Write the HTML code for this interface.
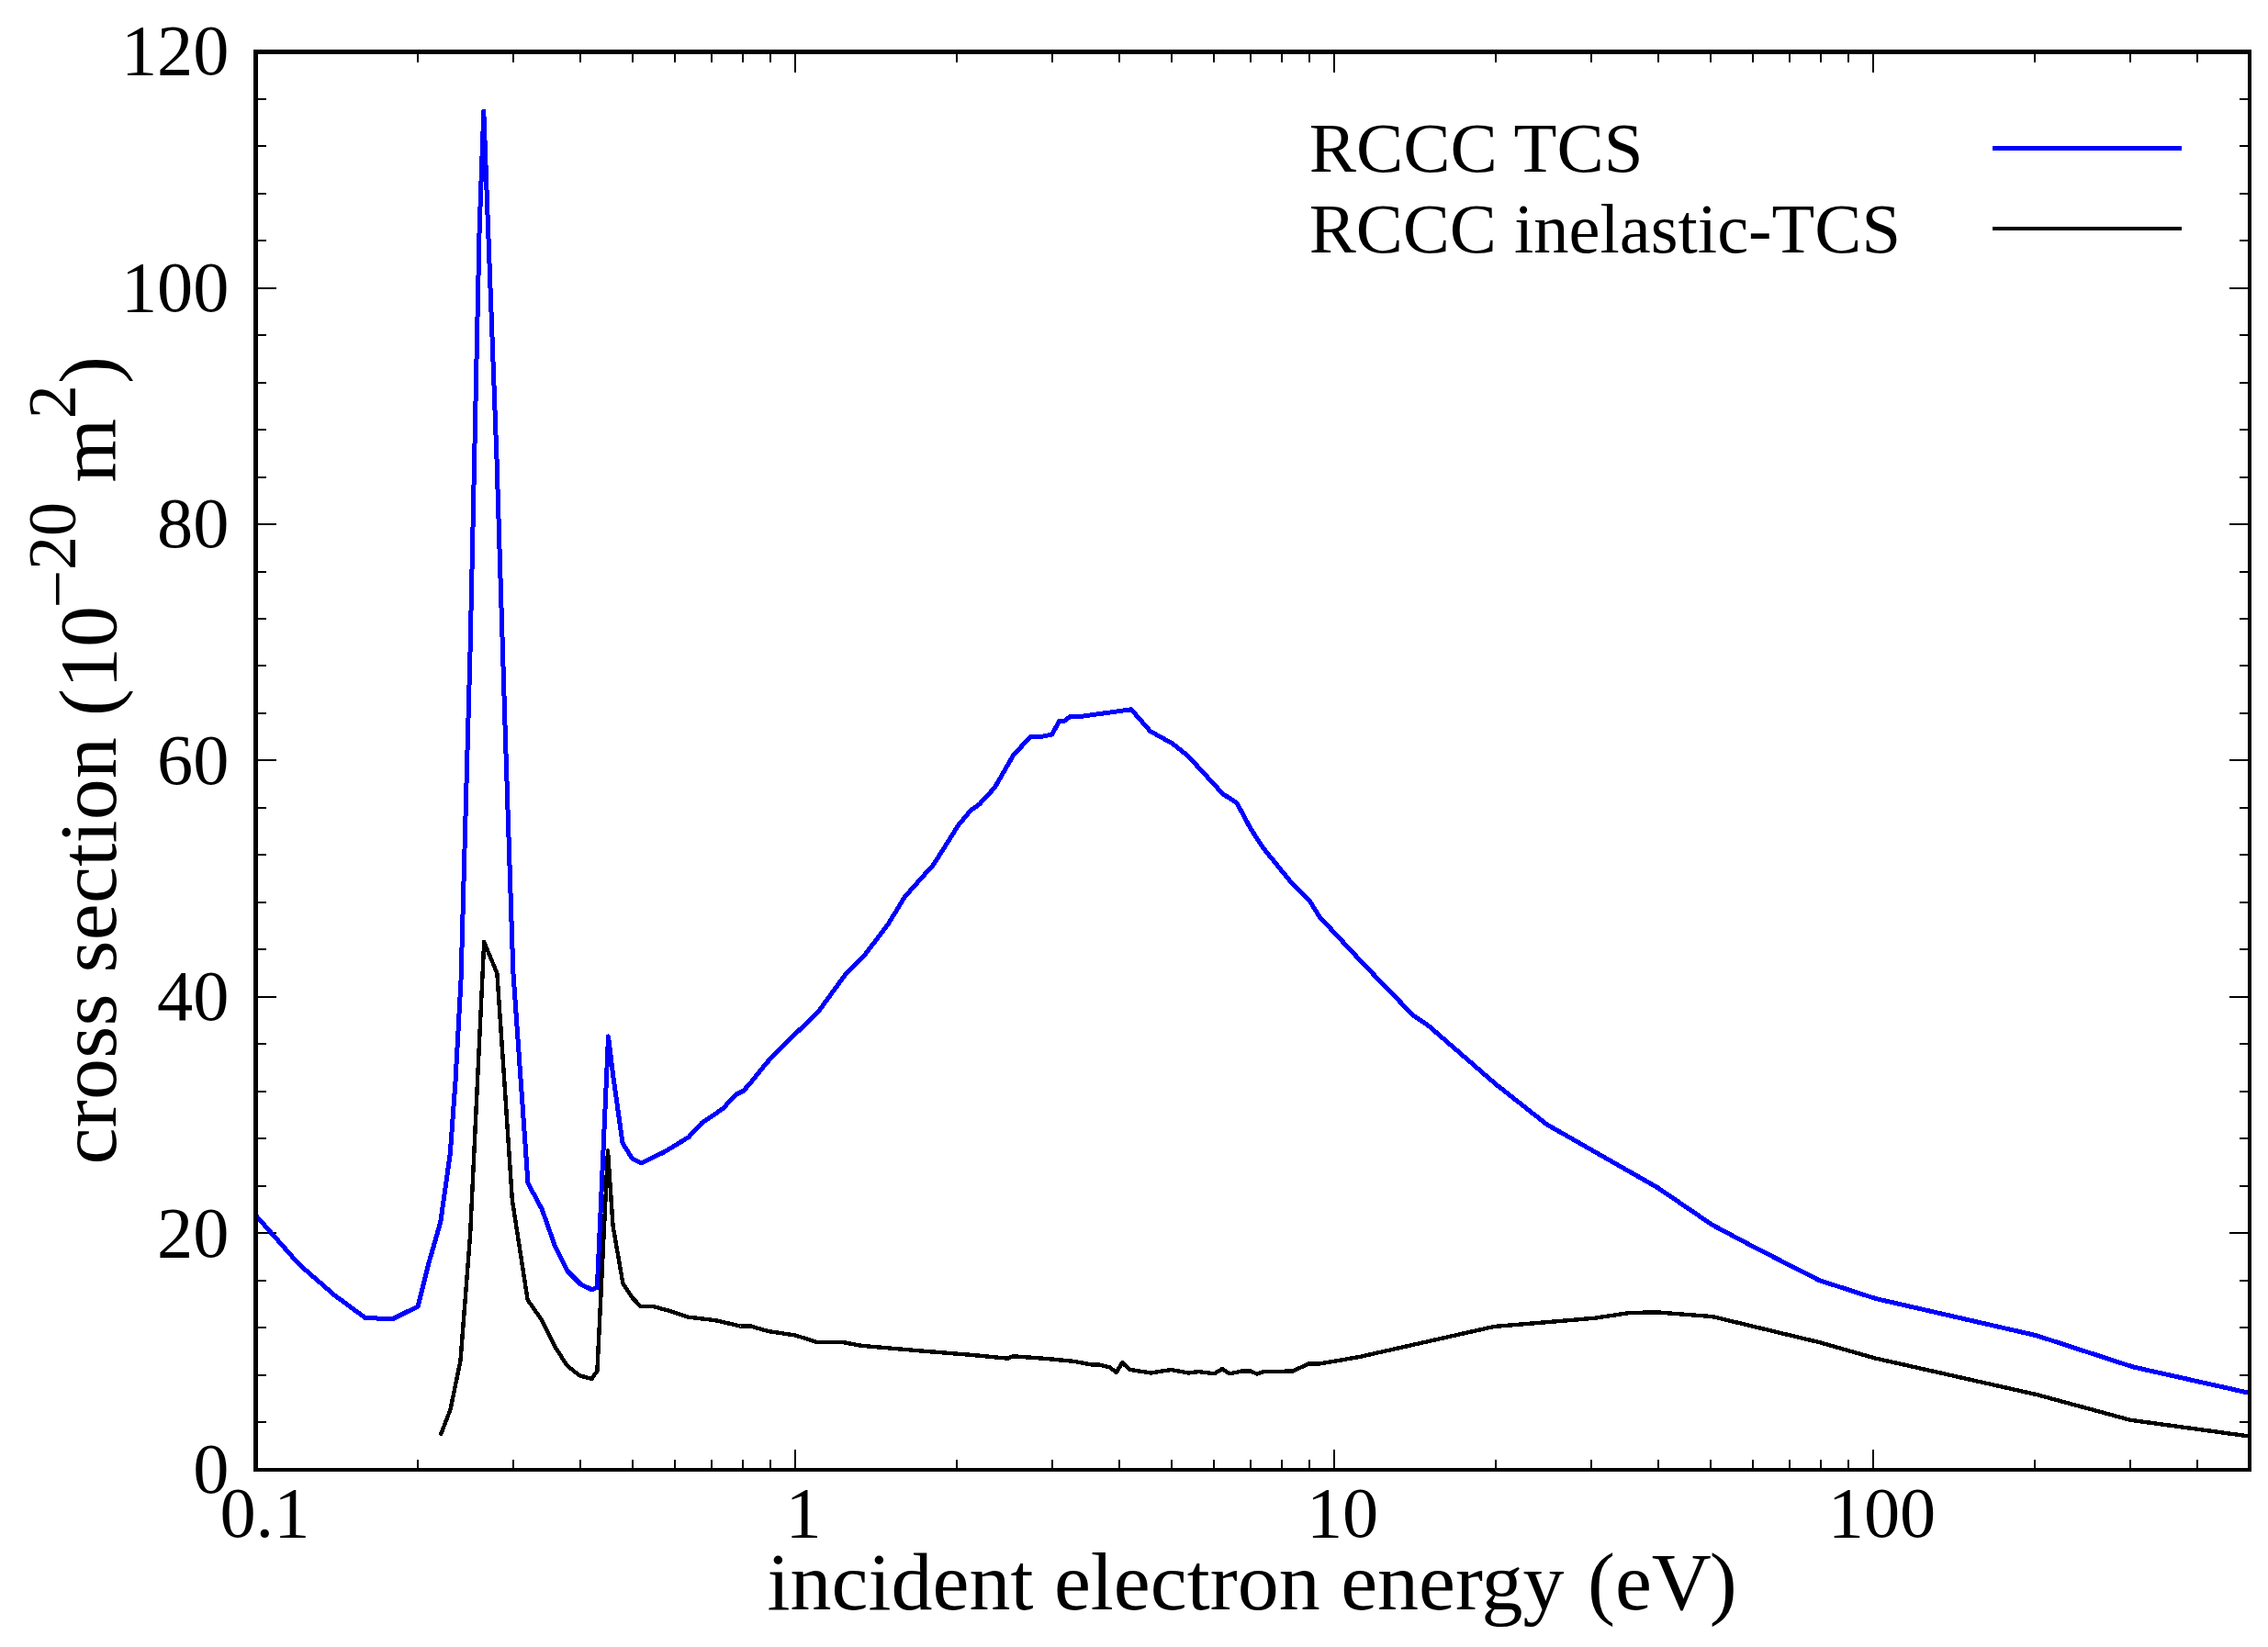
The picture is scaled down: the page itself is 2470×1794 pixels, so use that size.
<!DOCTYPE html>
<html lang="en"><head><meta charset="utf-8"><title>RCCC cross sections</title>
<style>html,body{margin:0;padding:0;background:#fff}body{width:2470px;height:1794px;overflow:hidden}</style></head>
<body>
<svg width="2470" height="1794" viewBox="0 0 2470 1794" style="display:block;font-family:'Liberation Serif','Times New Roman',serif" fill="#000">
<rect width="2470" height="1794" fill="#fff"/>
<path d="M278.5 1549.2h11.4M2450.5 1549.2h-11.4M278.5 1497.7h11.4M2450.5 1497.7h-11.4M278.5 1446.2h11.4M2450.5 1446.2h-11.4M278.5 1394.8h11.4M2450.5 1394.8h-11.4M278.5 1343.3h22.4M2450.5 1343.3h-22.4M278.5 1291.8h11.4M2450.5 1291.8h-11.4M278.5 1240.3h11.4M2450.5 1240.3h-11.4M278.5 1188.8h11.4M2450.5 1188.8h-11.4M278.5 1137.3h11.4M2450.5 1137.3h-11.4M278.5 1085.8h22.4M2450.5 1085.8h-22.4M278.5 1034.3h11.4M2450.5 1034.3h-11.4M278.5 982.9h11.4M2450.5 982.9h-11.4M278.5 931.4h11.4M2450.5 931.4h-11.4M278.5 879.9h11.4M2450.5 879.9h-11.4M278.5 828.4h22.4M2450.5 828.4h-22.4M278.5 776.9h11.4M2450.5 776.9h-11.4M278.5 725.4h11.4M2450.5 725.4h-11.4M278.5 673.9h11.4M2450.5 673.9h-11.4M278.5 622.5h11.4M2450.5 622.5h-11.4M278.5 571.0h22.4M2450.5 571.0h-22.4M278.5 519.5h11.4M2450.5 519.5h-11.4M278.5 468.0h11.4M2450.5 468.0h-11.4M278.5 416.5h11.4M2450.5 416.5h-11.4M278.5 365.0h11.4M2450.5 365.0h-11.4M278.5 313.5h22.4M2450.5 313.5h-22.4M278.5 262.0h11.4M2450.5 262.0h-11.4M278.5 210.6h11.4M2450.5 210.6h-11.4M278.5 159.1h11.4M2450.5 159.1h-11.4M278.5 107.6h11.4M2450.5 107.6h-11.4M455.2 1601.0v-11.4M455.2 56.4v11.4M558.6 1601.0v-11.4M558.6 56.4v11.4M631.9 1601.0v-11.4M631.9 56.4v11.4M688.8 1601.0v-11.4M688.8 56.4v11.4M735.3 1601.0v-11.4M735.3 56.4v11.4M774.6 1601.0v-11.4M774.6 56.4v11.4M808.6 1601.0v-11.4M808.6 56.4v11.4M838.6 1601.0v-11.4M838.6 56.4v11.4M865.5 1601.0v-22.4M865.5 56.4v22.4M1042.2 1601.0v-11.4M1042.2 56.4v11.4M1145.6 1601.0v-11.4M1145.6 56.4v11.4M1218.9 1601.0v-11.4M1218.9 56.4v11.4M1275.8 1601.0v-11.4M1275.8 56.4v11.4M1322.3 1601.0v-11.4M1322.3 56.4v11.4M1361.6 1601.0v-11.4M1361.6 56.4v11.4M1395.6 1601.0v-11.4M1395.6 56.4v11.4M1425.6 1601.0v-11.4M1425.6 56.4v11.4M1452.5 1601.0v-22.4M1452.5 56.4v22.4M1629.2 1601.0v-11.4M1629.2 56.4v11.4M1732.6 1601.0v-11.4M1732.6 56.4v11.4M1805.9 1601.0v-11.4M1805.9 56.4v11.4M1862.8 1601.0v-11.4M1862.8 56.4v11.4M1909.3 1601.0v-11.4M1909.3 56.4v11.4M1948.6 1601.0v-11.4M1948.6 56.4v11.4M1982.6 1601.0v-11.4M1982.6 56.4v11.4M2012.6 1601.0v-11.4M2012.6 56.4v11.4M2039.5 1601.0v-22.4M2039.5 56.4v22.4M2216.2 1601.0v-11.4M2216.2 56.4v11.4M2319.6 1601.0v-11.4M2319.6 56.4v11.4M2392.9 1601.0v-11.4M2392.9 56.4v11.4" stroke="#000" stroke-width="2.0" fill="none" shape-rendering="crispEdges"/>
<polyline points="278.5,1323.8 326.0,1377.5 364.3,1410.8 398.3,1435.8 428.4,1436.3 455.2,1423.0 466.9,1376.0 479.8,1331.0 490.3,1256.5 496.0,1178.0 502.0,1068.0 512.1,707.0 522.1,250.0 526.8,121.0 531.7,252.0 541.0,500.0 550.0,790.0 558.8,1057.5 575.0,1288.8 590.4,1317.5 604.8,1358.5 618.0,1384.5 632.3,1398.8 644.5,1404.7 650.4,1402.5 662.5,1129.0 667.5,1170.0 678.0,1245.0 688.5,1262.0 698.6,1267.0 724.0,1254.5 749.9,1238.7 764.3,1223.2 787.0,1207.8 801.5,1192.3 809.8,1188.1 818.0,1178.8 834.5,1158.2 845.9,1145.8 891.3,1101.9 921.9,1059.8 941.0,1041.2 967.0,1007.0 985.3,977.0 1005.2,954.5 1017.0,941.4 1043.5,899.1 1057.2,882.7 1066.8,875.8 1083.2,858.0 1103.7,822.5 1122.8,802.0 1132.4,802.8 1145.5,800.1 1153.7,785.6 1159.7,785.0 1166.0,780.1 1174.7,780.7 1232.1,772.8 1252.7,796.5 1277.3,810.2 1293.7,823.3 1331.9,864.9 1347.0,874.5 1362.0,902.6 1375.7,923.7 1405.7,960.6 1426.2,981.1 1437.2,998.8 1484.9,1050.0 1520.0,1086.3 1539.2,1106.3 1555.6,1117.2 1629.2,1181.1 1684.7,1224.9 1804.7,1293.3 1864.9,1334.3 1911.3,1358.9 1981.2,1394.6 2042.7,1414.5 2217.7,1454.7 2322.9,1488.9 2449.8,1517.4" fill="none" stroke="#0000ff" stroke-width="5.0" stroke-linejoin="round" stroke-linecap="butt" shape-rendering="crispEdges"/>
<polyline points="480.3,1562.0 490.5,1535.3 501.5,1482.0 512.1,1345.0 527.2,1026.0 541.4,1060.4 549.3,1178.0 557.8,1306.5 574.6,1415.8 590.3,1438.3 605.3,1468.3 617.6,1487.5 631.3,1498.4 644.3,1501.8 650.4,1493.6 662.0,1253.5 667.5,1335.0 678.4,1398.0 688.7,1413.7 698.0,1423.2 711.9,1423.2 730.0,1428.1 749.1,1434.6 779.2,1438.2 806.5,1444.5 817.5,1444.5 836.6,1450.0 866.7,1454.6 889.9,1462.2 918.6,1462.2 937.8,1465.8 1003.4,1471.5 1058.0,1475.9 1097.7,1479.7 1103.2,1477.3 1140.1,1480.0 1170.0,1482.9 1187.8,1486.3 1197.3,1486.6 1208.3,1489.3 1215.8,1494.9 1222.2,1484.2 1230.1,1491.8 1253.4,1495.5 1275.2,1492.0 1294.4,1495.5 1305.3,1494.1 1322.4,1496.3 1331.0,1491.1 1339.2,1496.3 1353.2,1493.4 1361.4,1493.4 1368.9,1496.5 1376.4,1494.2 1407.8,1493.5 1425.6,1485.3 1436.5,1485.6 1480.0,1478.1 1627.0,1445.0 1736.4,1435.8 1774.7,1430.0 1804.7,1429.4 1864.9,1434.1 1981.2,1462.1 2041.4,1479.3 2217.7,1519.0 2320.2,1546.8 2449.8,1564.5" fill="none" stroke="#000" stroke-width="4.4" stroke-linejoin="round" stroke-linecap="round" shape-rendering="crispEdges"/>
<path d="M276 54H2452V1603H276ZM281 59V1599H2448V59Z" fill="#000" fill-rule="evenodd" shape-rendering="crispEdges"/>
<rect x="2170" y="159" width="206" height="5" fill="#0000ff" shape-rendering="crispEdges"/>
<rect x="2170" y="247" width="206" height="4" fill="#000" shape-rendering="crispEdges"/>
<text x="1425.7" y="186.7" font-size="76.85">RCCC TCS</text>
<text x="1425.7" y="274.8" font-size="76.55">RCCC inelastic-TCS</text>
<text x="249.5" y="1626.0" font-size="78.4" text-anchor="end">0</text>
<text x="249.5" y="1368.6" font-size="78.4" text-anchor="end">20</text>
<text x="249.5" y="1111.1" font-size="78.4" text-anchor="end">40</text>
<text x="249.5" y="853.7" font-size="78.4" text-anchor="end">60</text>
<text x="249.5" y="596.3" font-size="78.4" text-anchor="end">80</text>
<text x="249.5" y="338.8" font-size="78.4" text-anchor="end">100</text>
<text x="249.5" y="81.4" font-size="78.4" text-anchor="end">120</text>
<text x="239.4" y="1674.4" font-size="78.4">0.1</text>
<text x="855.5" y="1674.4" font-size="78.4">1</text>
<text x="1422.9" y="1674.4" font-size="78.4">10</text>
<text x="1990.7" y="1674.4" font-size="78.4">100</text>
<text transform="translate(835.5,1752.8) scale(1.0147,1)" font-size="88.7">incident electron energy <tspan dx="3">(eV</tspan><tspan dx="-2">)</tspan></text>
<text transform="translate(126,1268.5) rotate(-90) scale(1.0147,1)" font-size="88.7"><tspan letter-spacing="0.25">cross section </tspan>(10<tspan font-size="73" dx="-2.7" dy="-38.8">−</tspan><tspan font-size="73" dy="-4.9">20</tspan><tspan dx="-1.2" dy="43.7"> m</tspan><tspan font-size="73" dx="-0.5" dy="-43.7">2</tspan><tspan dx="1.1" dy="43.7">)</tspan></text>
</svg>
</body></html>
